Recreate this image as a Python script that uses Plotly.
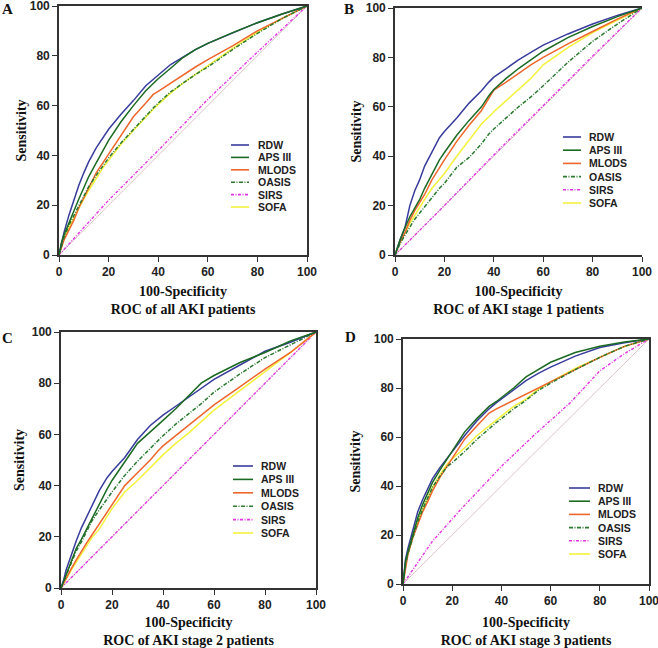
import plotly.graph_objects as go

# ---------------- data ----------------
FPR = [0, 1, 2, 4, 6, 8, 10, 12, 15, 18, 20, 25, 30, 35, 38, 40, 45, 50, 55, 60, 70, 80, 90, 100]

# Panel A - all AKI patients
A_RDW   = [0, 5, 9, 16, 22, 28, 33, 37.5, 43, 47.5, 50.5, 56.5, 62, 68, 70.5, 72.5, 76.5, 79.5, 82.5, 85, 89.3, 93.3, 96.8, 100]
A_APS   = [0, 5, 8, 13, 18, 22.5, 27, 31.5, 37, 42.5, 46, 53.5, 60, 66, 69, 70.8, 75, 79.3, 82.5, 85, 89.3, 93.3, 96.8, 100]
A_MLODS = [0, 3.5, 6, 10, 14, 19, 23, 27, 33, 37.5, 40.5, 48.5, 55.5, 61, 64.5, 65.7, 69, 72, 75.5, 78.5, 84, 90, 95, 100]
A_OASIS = [0, 4, 7, 12, 16, 20, 24, 27.5, 32, 36.5, 39, 45, 50.5, 56, 59, 61, 65.5, 69, 72.5, 75.5, 82.5, 89, 95, 100]
A_SOFA  = [0, 3.5, 6.5, 11, 15, 19, 22.5, 26, 31, 35.5, 38, 44.5, 50, 55.5, 58.5, 60.5, 65, 69, 72.5, 76, 83, 89.5, 95, 100]
A_SIRS_X = [0, 20, 40, 60, 80, 100]
A_SIRS_Y = [0, 22, 42, 62.5, 81.5, 100]

# Panel B - AKI stage 1
B_RDW   = [0, 3, 6, 11, 20, 26, 30.5, 36, 42, 47.5, 50, 55.5, 61.5, 66.5, 70, 72, 75.5, 79, 82, 85, 89.5, 93.5, 97, 100]
B_APS   = [0, 3, 6, 11, 15.5, 19, 22.5, 27, 32.5, 38.5, 41.5, 48.5, 54.5, 60, 64.5, 67, 71.5, 75.5, 79, 82.5, 88, 92.5, 96.5, 100]
B_MLODS = [0, 2.5, 5, 9, 14, 18, 21, 24.5, 30.5, 35.5, 38.5, 46, 52.5, 58.5, 63.5, 66.8, 70, 73.5, 77, 80, 85.5, 90.5, 95.5, 100]
B_OASIS = [0, 2.5, 4.5, 8, 11.5, 14.5, 17, 19.5, 23.5, 27, 29, 35.5, 39.5, 45, 49, 51, 55.5, 60, 64, 68.5, 78, 86.5, 93.5, 100]
B_SOFA  = [0, 3, 5, 9, 12.8, 16, 19.5, 22.5, 27, 30.5, 33, 40, 46.5, 53, 56, 58, 62.5, 67, 71.5, 77, 84, 90, 95, 100]
B_SIRS_X = [0, 20, 40, 60, 80, 100]
B_SIRS_Y = [0, 20, 40.5, 60.5, 80.5, 100]

# Panel C - AKI stage 2
C_RDW   = [0, 3, 7, 13, 18.5, 23.5, 27.5, 31.5, 38, 43, 45.5, 51, 58, 63.5, 66, 67.5, 71, 74.5, 78, 81.5, 87, 92.5, 96, 100]
C_APS   = [0, 2.5, 5, 10.5, 15.5, 19, 23, 27, 33, 38.5, 42, 49.5, 56.5, 61, 63.5, 65.5, 70, 75, 80, 83, 88, 92, 96.5, 100]
C_MLODS = [0, 2, 4, 7.5, 11, 14.5, 17.5, 20.5, 25, 29.5, 32.5, 40, 45, 50, 53.5, 55.5, 59.5, 63.5, 67.5, 71.5, 78.5, 85.5, 92, 100]
C_OASIS = [0, 2.5, 5, 10, 14.5, 18, 22, 26, 30.5, 35, 37.5, 44, 49.5, 54.5, 57.5, 59.5, 64, 68, 72, 76.5, 83.5, 90, 95, 100]
C_SOFA  = [0, 1.5, 3.5, 7, 10, 13.5, 16.5, 19.5, 23, 28, 31, 37.5, 42, 47, 50, 52, 56.5, 60.5, 65, 69.5, 77, 84.5, 92, 100]
C_SIRS_X = [0, 20, 40, 60, 80, 100]
C_SIRS_Y = [0, 20, 40, 60, 80, 100]

# Panel D - AKI stage 3
D_RDW   = [0, 10, 14.5, 22, 29.5, 34.5, 39, 43, 47.5, 51.5, 54, 60.5, 66.5, 71.5, 74, 75.5, 79.5, 83, 86, 88.5, 93, 96.5, 98.5, 100]
D_APS   = [0, 9, 13, 20.5, 27, 32.5, 37, 41.5, 46.5, 51, 54, 62, 67.5, 72.5, 74.5, 76, 80, 84.5, 87.5, 90.5, 94.5, 97, 98.8, 100]
D_MLODS = [0, 7, 12, 19, 24.5, 29.5, 33.5, 38, 43.5, 48, 51, 59, 64.5, 69.8, 71.5, 72.5, 75, 77.5, 80, 82.5, 87.5, 92.5, 97, 100]
D_OASIS = [0, 8, 12.5, 19.5, 25.5, 30.5, 35, 39.5, 44, 48, 49.5, 54, 59, 63.5, 66, 67.5, 71.5, 75, 79, 82, 87.5, 92.5, 97, 100]
D_SOFA  = [0, 8, 12.5, 19.5, 25.5, 30.5, 35, 39.5, 44.5, 49, 51, 55.5, 60.5, 64.5, 67, 68.5, 72.5, 75.5, 79.5, 82.5, 88, 92.5, 97, 100]
D_SIRS_X = [0, 12, 24, 40, 53, 68, 80, 90, 100]
D_SIRS_Y = [0, 17.5, 31, 48, 60.5, 74, 87, 94, 100]

PANEL_LETTERS = ["A", "B", "C", "D"]
PANEL_TITLES = ["ROC of all AKI patients", "ROC of AKI stage 1 patients",
                "ROC of AKI stage 2 patients", "ROC of AKI stage 3 patients"]
LEGEND_NAMES = ["RDW", "APS III", "MLODS", "OASIS", "SIRS", "SOFA"]
TICKS = [0, 20, 40, 60, 80, 100]
REF_X = [0, 100]
REF_Y = [0, 100]

# ---------------- styles ----------------
W, H = 658, 648
STYLE = {
    "RDW":     dict(color="#383c9c", dash="solid"),
    "APS III": dict(color="#1b6a22", dash="solid"),
    "MLODS":   dict(color="#ee662c", dash="solid"),
    "OASIS":   dict(color="#2b7a30", dash="4px,1.5px,1px,1.5px"),
    "SIRS":    dict(color="#e336e3", dash="3px,1.5px,1px,1.5px"),
    "SOFA":    dict(color="#f3f23c", dash="solid"),
}
REF_COLOR = "#dcc6c6"
AX_COLOR = "#333333"
SANS = "Liberation Sans, Arial, sans-serif"
SERIF = "Liberation Serif, Times New Roman, serif"

# axes boxes in pixels: (left, right, top, bottom)
BOXES = [(59, 307, 6, 255), (395, 642, 8, 255), (61, 316, 332, 588), (403, 649, 339, 584)]
YT_STANDOFF = [0, 1, 4, 10]
XT_STANDOFF = [8, 8, 8, 10]
LETTER_POS = [(7, 9), (349, 9), (7, 338), (350, 337)]
# legend geometry: line x0, line x1, text x, first row y, row spacing (pixels)
LEGEND_GEOM = [(231, 249, 256, 145, 12.4), (563, 581, 587, 137, 13.2),
               (233, 253, 259, 466, 13.4), (569, 590, 596, 488, 13.2)]
MIRROR_Y = [True, False, True, True]

panels = [
    dict(series={"RDW": A_RDW, "APS III": A_APS, "MLODS": A_MLODS, "OASIS": A_OASIS, "SOFA": A_SOFA},
         sirs=(A_SIRS_X, A_SIRS_Y)),
    dict(series={"RDW": B_RDW, "APS III": B_APS, "MLODS": B_MLODS, "OASIS": B_OASIS, "SOFA": B_SOFA},
         sirs=(B_SIRS_X, B_SIRS_Y)),
    dict(series={"RDW": C_RDW, "APS III": C_APS, "MLODS": C_MLODS, "OASIS": C_OASIS, "SOFA": C_SOFA},
         sirs=(C_SIRS_X, C_SIRS_Y)),
    dict(series={"RDW": D_RDW, "APS III": D_APS, "MLODS": D_MLODS, "OASIS": D_OASIS, "SOFA": D_SOFA},
         sirs=(D_SIRS_X, D_SIRS_Y)),
]

DRAW_ORDER = ["SOFA", "MLODS", "OASIS", "RDW", "APS III"]

fig = go.Figure()
layout = dict(width=W, height=H, margin=dict(l=0, r=0, t=0, b=0, autoexpand=False),
              paper_bgcolor="white", plot_bgcolor="white", showlegend=False)
shapes = []
annotations = []

def px_x(p):
    return p / W

def px_y(p):
    return 1 - p / H

for i, pan in enumerate(panels):
    n = "" if i == 0 else str(i + 1)
    xa, ya = "x" + n, "y" + n
    l, r, t, b = BOXES[i]
    # reference diagonal
    fig.add_trace(go.Scatter(x=REF_X, y=REF_Y, mode="lines", xaxis=xa, yaxis=ya,
                             line=dict(color=REF_COLOR, width=1), hoverinfo="skip"))
    sx, sy = pan["sirs"]
    fig.add_trace(go.Scatter(x=sx, y=sy, mode="lines", name="SIRS", xaxis=xa, yaxis=ya,
                             line=dict(color=STYLE["SIRS"]["color"], dash=STYLE["SIRS"]["dash"], width=1.4)))
    for name in DRAW_ORDER:
        fig.add_trace(go.Scatter(x=FPR, y=pan["series"][name], mode="lines", name=name,
                                 xaxis=xa, yaxis=ya,
                                 line=dict(color=STYLE[name]["color"], dash=STYLE[name]["dash"], width=1.5)))
    common = dict(range=[0, 100], tickvals=TICKS, ticktext=[str(v) for v in TICKS],
                  showgrid=False, zeroline=False, showline=True, linecolor=AX_COLOR, linewidth=1.6,
                  ticks="outside", ticklen=5, tickwidth=1.4, tickcolor=AX_COLOR, automargin=False,
                  ticklabeloverflow="allow",
                  tickfont=dict(family=SANS, size=12, color="#222222", weight="bold"))
    layout["xaxis" + n] = dict(common, domain=[px_x(l), px_x(r)], anchor=ya, mirror=True,
                               title=dict(text="100-Specificity<br>" + PANEL_TITLES[i],
                                          font=dict(family=SERIF, size=14, color="#111111", weight="bold"),
                                          standoff=XT_STANDOFF[i]))
    layout["yaxis" + n] = dict(common, domain=[px_y(b), px_y(t)], anchor=xa, mirror=MIRROR_Y[i],
                               title=dict(text="Sensitivity",
                                          font=dict(family=SERIF, size=14, color="#111111", weight="bold"),
                                          standoff=YT_STANDOFF[i]))
    # panel letter
    lx, ly = LETTER_POS[i]
    annotations.append(dict(text=PANEL_LETTERS[i], x=px_x(lx), y=px_y(ly), xref="paper", yref="paper",
                            showarrow=False, xanchor="center", yanchor="middle",
                            font=dict(family=SERIF, size=15, color="#111111", weight="bold")))
    # legend (drawn as key lines + labels)
    x0, x1, tx, y0, dy = LEGEND_GEOM[i]
    for k, name in enumerate(LEGEND_NAMES):
        yy = y0 + k * dy
        shapes.append(dict(type="line", xref="paper", yref="paper",
                           x0=px_x(x0), x1=px_x(x1), y0=px_y(yy), y1=px_y(yy),
                           line=dict(color=STYLE[name]["color"], dash=STYLE[name]["dash"], width=1.6)))
        annotations.append(dict(text=name, x=px_x(tx), y=px_y(yy), xref="paper", yref="paper",
                                showarrow=False, xanchor="left", yanchor="middle",
                                font=dict(family=SANS, size=10.5, color="#222222", weight="bold")))

layout["shapes"] = shapes
layout["annotations"] = annotations
fig.update_layout(**layout)

PAGE_FIX = ("document.body.style.margin='0px';document.body.style.padding='0px';"
            "document.documentElement.style.overflow='hidden';")
fig.write_html("out.html", post_script=PAGE_FIX, config={"displayModeBar": False})
